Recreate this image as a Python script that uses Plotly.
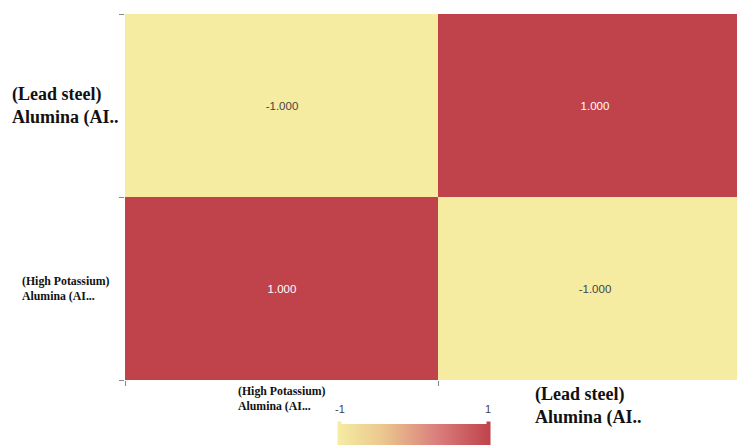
import plotly.graph_objects as go

x_labels = ["(High Potassium)<br>Alumina (AI...", "(Lead steel)<br>Alumina (AI.."]
y_labels = ["(High Potassium)<br>Alumina (AI...", "(Lead steel)<br>Alumina (AI.."]
label_sizes = [11.8, 18]
z_values = [[1.0, -1.0],
            [-1.0, 1.0]]
cmin, cmax = -1, 1

colorscale = [[0.0, "#f5eca2"], [0.3, "#ebc68e"], [0.65, "#da7f7c"], [1.0, "#c0434b"]]
label_font = "Liberation Serif, Times New Roman, serif"

fig = go.Figure(go.Heatmap(
    z=z_values, x=x_labels, y=y_labels,
    zmin=cmin, zmax=cmax, colorscale=colorscale,
    texttemplate="%{z:.3f}",
    textfont=dict(family="Arial, Liberation Sans, sans-serif", size=11.5),
    colorbar=dict(
        orientation="h", lenmode="pixels", len=172, thickness=26,
        x=0.472, xanchor="center", y=-0.12, yanchor="top", ypad=0,
        outlinewidth=0, showticklabels=False, ticks="",
    ),
))

fig.update_xaxes(
    tickmode="array", tickvals=x_labels, showticklabels=False,
    tickson="boundaries", ticks="outside", ticklen=5, tickcolor="#888",
    range=[-0.5, 1.455], showgrid=False, zeroline=False,
)
fig.update_yaxes(
    tickmode="array", tickvals=y_labels, showticklabels=False,
    tickson="boundaries", ticks="outside", ticklen=5, tickcolor="#888",
    showgrid=False, zeroline=False, range=[-0.5, 1.5],
)

y_shifts = [-105, -115]
for i, (lab, s) in enumerate(zip(y_labels, label_sizes)):
    fig.add_annotation(text=f"<b>{lab}</b>", xref="paper", x=0, yref="y", y=i,
                       xanchor="left", xshift=y_shifts[i], align="left", showarrow=False,
                       font=dict(family=label_font, size=s, color="#111"))

x_shifts = [0, -6]
for i, (lab, s) in enumerate(zip(x_labels, label_sizes)):
    fig.add_annotation(text=f"<b>{lab}</b>", xref="x", x=i, yref="paper", y=0,
                       yanchor="top", yshift=-2, xshift=x_shifts[i], align="left", showarrow=False,
                       font=dict(family=label_font, size=s, color="#111"))

for val, xp in [(cmin, 0.351), (cmax, 0.593)]:
    fig.add_annotation(text=str(val), x=xp, y=-0.08, xref="paper", yref="paper",
                       showarrow=False, yanchor="middle",
                       font=dict(family="Arial, Liberation Sans, sans-serif", size=11, color="#444"))

# colorbar end handles
def px(x):
    return (x - 125) / 612

def py(y):
    return (380 - y) / 366

for x0, x1, col in [(337, 342, "#f5eca2"), (486, 491, "#c0434b")]:
    fig.add_shape(type="rect", xref="paper", yref="paper",
                  x0=px(x0), x1=px(x1), y0=py(450), y1=py(421),
                  fillcolor=col, line=dict(color="white", width=1))

fig.update_layout(
    width=737, height=445,
    margin=dict(l=125, r=0, t=14, b=65, autoexpand=False),
    paper_bgcolor="white", plot_bgcolor="white",
    showlegend=False,
)

fig.write_html("out.html")
